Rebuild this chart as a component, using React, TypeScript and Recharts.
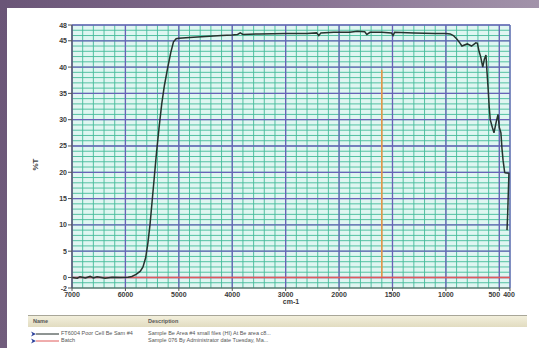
import React from 'react';
import { LineChart, Line, XAxis, YAxis, CartesianGrid, ReferenceLine } from 'recharts';

// sample spectrum, %T against wavenumber (cm-1)
const wavenumbers = [
  7000, 6900, 6850, 6750, 6660, 6600, 6530, 6450, 6380, 6250, 6100, 5950, 5880, 5800, 5720,
  5671, 5620, 5580, 5540, 5500, 5460, 5420, 5370, 5320, 5270, 5210, 5150, 5100, 5050,
  5000, 4800, 4500, 4200, 4000, 3900, 3850, 3800, 3500, 3000, 2600, 2420, 2380, 2340, 2100,
  2000, 1900, 1830, 1760, 1740, 1710, 1600, 1510, 1495, 1480, 1300, 1100, 1000, 960, 930,
  900, 870, 850, 800, 760, 720, 705, 690, 675, 655, 640, 625, 615, 605, 595,
  585, 565, 550, 530, 512, 500, 485, 475, 465, 450, 446, 410, 416, 422, 428,
];
const transmittance = [
  0.0, -0.15, 0.15, -0.1, 0.2, -0.1, 0.15, 0, -0.15, 0.05, 0, 0.05, 0.2, 0.6, 1.2,
  2.0, 3.8, 6.5, 10.0, 14.5, 19.0, 23.5, 28.5, 33.0, 36.5, 39.8, 42.8, 44.8, 45.4,
  45.5, 45.6, 45.8, 46.0, 46.1, 46.2, 46.5, 46.2, 46.3, 46.4, 46.4, 46.5, 46.0, 46.5, 46.6,
  46.6, 46.6, 46.8, 46.7, 46.2, 46.6, 46.6, 46.5, 46.0, 46.6, 46.5, 46.4, 46.4, 46.3, 46.0,
  45.4, 44.6, 44.0, 44.4, 44.0, 44.6, 44.5, 43.0, 42.0, 40.0, 41.5, 42.3, 39.0, 36.0, 32.5,
  30.0, 28.5, 27.5, 29.5, 31.0, 28.5, 27.5, 24.5, 22.3, 20.0, 19.9, 19.8, 16.0, 12.0, 9.0,
];

// second trace (background) sits on zero
const baselineWavenumbers = [7000, 400];
const baselineValues = [0, 0];

const markerWavenumber = 1600;
const markerRange = [0, 39.5];

const xTickLabels = [7000, 6000, 5000, 4000, 3000, 2000, 1500, 1000, 500, 400];
const yTickLabels = [-2, 0, 5, 10, 15, 20, 25, 30, 35, 40, 45, 48];
const yMajorLines = [0, 5, 10, 15, 20, 25, 30, 35, 40, 45, 48];

const legendNames = ['FT6004 Poor Cell Be Sam #4', 'Batch'];
const legendDescriptions = [
  'Sample Be Area #4 small files (HI) At Be area c8...',
  'Sample 076 By Administrator date Tuesday, Ma...',
];
const legendColors = ['#1f2a26', '#e05a5a'];

// the instrument axis doubles its scale below 2000 cm-1
const toPos = (w: number) => (w >= 2000 ? 7000 - w : 5000 + (2000 - w) * 2);
const posMax = toPos(400);

const spectrum = wavenumbers.map((w, i) => ({ pos: toPos(w), t: transmittance[i] }));
const baseline = baselineWavenumbers.map((w, i) => ({ pos: toPos(w), t: baselineValues[i] }));

const minorX: number[] = [];
for (let p = 0; p <= posMax; p += 200) minorX.push(p);
const minorY: number[] = [];
for (let v = -2; v <= 48; v += 1) minorY.push(v);

const labelByPos = new Map(xTickLabels.map((w) => [toPos(w), w]));

const XTick = (props: any) => {
  const { x, y, payload } = props;
  const w = labelByPos.get(payload.value);
  const shift = w === 500 ? -5 : w === 400 ? -1 : 0;
  return (
    <text x={x + shift} y={y + 5} textAnchor="middle" fontSize={7} fill="#3a3a3a" fontFamily="Liberation Sans, Arial" fontWeight="bold">
      {w}
    </text>
  );
};

const YTick = (props: any) => {
  const { x, y, payload } = props;
  return (
    <text x={x} y={y + 2.5} textAnchor="end" fontSize={7} fill="#3a3a3a" fontFamily="Liberation Sans, Arial" fontWeight="bold">
      {payload.value}
    </text>
  );
};

const LegendIcon = ({ color }: { color: string }) => (
  <svg width={30} height={6} style={{ display: 'block' }}>
    <path d="M1 0.5 L6 3 L1 5.5 L2.5 3 Z" fill="#2a3f9a" />
    <line x1={6} y1={3} x2={29} y2={3} stroke={color} strokeWidth={1} />
  </svg>
);

export default function App() {
  return (
    <div style={{ position: 'fixed', left: 0, top: 0, width: 539, height: 348, background: '#ffffff', overflow: 'hidden' }}>
      <div style={{ position: 'absolute', left: 0, top: 0, width: 539, height: 8, background: 'linear-gradient(90deg, #6a5577, #8a7594 60%, #a293aa)' }} />
      <div style={{ position: 'absolute', left: 0, top: 0, width: 7, height: 348, background: 'linear-gradient(180deg, #6a5577, #715d7c)' }} />

      <div style={{ position: 'absolute', left: 0, top: 0 }}>
        <LineChart width={539} height={348} margin={{ top: 25, right: 29, bottom: 30, left: 32 }}>
          <CartesianGrid
            verticalValues={minorX}
            horizontalValues={minorY}
            stroke="#45bb9a"
            strokeOpacity={0.9}
            fill="#dff6f1"
            fillOpacity={1}
          />
          <CartesianGrid
            verticalValues={xTickLabels.map(toPos)}
            horizontalValues={yMajorLines}
            stroke="#6a62b8"
            strokeWidth={1.3}
            fill="none"
          />
          <XAxis
            type="number"
            dataKey="pos"
            domain={[0, posMax]}
            ticks={xTickLabels.map(toPos)}
            tick={<XTick />}
            tickSize={3}
            tickMargin={1}
            height={30}
            stroke="#555"
            interval={0}
          />
          <YAxis
            type="number"
            domain={[-2, 48]}
            ticks={yTickLabels}
            tick={<YTick />}
            tickSize={4}
            tickMargin={1}
            width={40}
            stroke="#555"
            interval={0}
          />
          <ReferenceLine
            segment={[
              { x: toPos(markerWavenumber), y: markerRange[0] },
              { x: toPos(markerWavenumber), y: markerRange[1] },
            ]}
            stroke="#e8964a"
            strokeWidth={1.6}
          />
          <Line data={baseline} dataKey="t" type="linear" stroke={legendColors[1]} strokeWidth={1.5} dot={false} isAnimationActive={false} />
          <Line data={spectrum} dataKey="t" type="linear" stroke="#26332e" strokeWidth={1.5} dot={false} isAnimationActive={false} />
        </LineChart>
      </div>

      <div style={{ position: 'absolute', left: 25, top: 160, width: 20, transform: 'rotate(-90deg)', fontSize: 8, fontWeight: 'bold', fontFamily: 'Liberation Sans, Arial', color: '#444', textAlign: 'center' }}>
        %T
      </div>
      <div style={{ position: 'absolute', left: 271, top: 298, width: 40, textAlign: 'center', fontSize: 7, fontWeight: 'bold', fontFamily: 'Liberation Sans, Arial', color: '#3a3a3a' }}>
        cm-1
      </div>

      <div style={{ position: 'absolute', left: 28, top: 315, width: 499, height: 11, background: 'linear-gradient(180deg, #f2efdc, #e2dcc0)', borderTop: '1px solid #a8a698', fontFamily: 'Liberation Sans, Arial', fontSize: 5.5, fontWeight: 'bold', color: '#555' }}>
        <span style={{ position: 'absolute', left: 5, top: 2 }}>Name</span>
        <span style={{ position: 'absolute', left: 120, top: 2 }}>Description</span>
      </div>
      {legendNames.map((name, i) => (
        <div key={name} style={{ position: 'absolute', left: 30, top: 330 + i * 7, height: 7, width: 480, fontFamily: 'Liberation Sans, Arial', fontSize: 5.5, color: '#555', lineHeight: '7px' }}>
          <div style={{ position: 'absolute', left: 0, top: 0.5 }}>
            <LegendIcon color={legendColors[i]} />
          </div>
          <span style={{ position: 'absolute', left: 31, top: 0, whiteSpace: 'nowrap' }}>{name}</span>
          <span style={{ position: 'absolute', left: 118, top: 0, whiteSpace: 'nowrap' }}>{legendDescriptions[i]}</span>
        </div>
      ))}
    </div>
  );
}
